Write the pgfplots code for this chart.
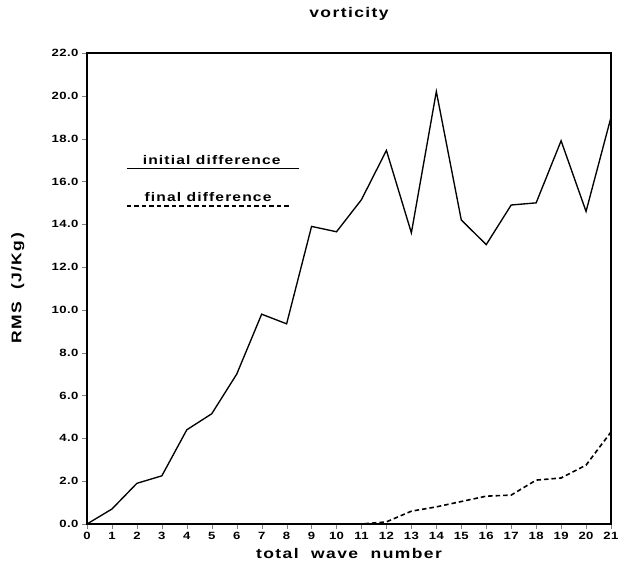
\documentclass[border=0pt]{standalone}
\usepackage{fontspec}
\setmainfont{Liberation Sans}
\newfontfamily\wf[FakeStretch=1.25]{Liberation Sans}
\usepackage{pgfplots}
\pgfplotsset{compat=1.18}
\begin{document}
\begin{tikzpicture}
\begin{axis}[
  scale only axis,
  width=524pt, height=471pt,
  xmin=0, xmax=21, ymin=0, ymax=22,
  xtick={0,...,21},
  ytick={0,2,...,22},
  yticklabel style={/pgf/number format/.cd,fixed,fixed zerofill,precision=1},
  /pgf/number format/assume math mode=true,
  tick label style={font=\wf\bfseries\fontsize{10.5}{12}\selectfont\addfontfeatures{LetterSpace=4}},
  tick align=outside,
  tick pos=left,
  major tick length=5pt,
  axis line style={line width=1.8pt},
  title={vorticity},
  title style={font=\wf\bfseries\fontsize{14}{16}\selectfont\addfontfeatures{LetterSpace=10}, at={(axis description cs:0.5,1.07)}, anchor=center},
  xlabel={total\ \ wave\ \ number},
  ylabel={RMS\ \ (J/Kg)},
  label style={font=\wf\bfseries\fontsize{14}{16}\selectfont\addfontfeatures{LetterSpace=10}},
  xlabel style={at={(axis description cs:0.5,-0.062)}, anchor=center},
  ylabel style={at={(axis description cs:-0.132,0.5)}, anchor=center},
  clip=false,
]
\addplot[black, line width=1.35pt] coordinates {
(0,0) (1,0.7) (2,1.9) (3,2.25) (4,4.4) (5,5.15) (6,7.0) (7,9.8) (8,9.35)
(9,13.9) (10,13.65) (11,15.15) (12,17.45) (13,13.6) (14,20.2) (15,14.2)
(16,13.05) (17,14.9) (18,15.0) (19,17.9) (20,14.6) (21,19.0)};
\addplot[black, line width=1.6pt, dash pattern=on 4.5pt off 3pt] coordinates {
(0,0) (1,0) (2,0) (3,0) (4,0) (5,0) (6,0) (7,0) (8,0) (9,0) (10,0) (11,0)
(12,0.1) (13,0.6) (14,0.8) (15,1.05) (16,1.3) (17,1.35) (18,2.05) (19,2.15)
(20,2.75) (21,4.3)};
% legend
\addplot[black, line width=1.5pt] coordinates {(1.6,16.6) (8.5,16.6)};
\addplot[black, line width=1.6pt, dash pattern=on 4.5pt off 3pt] coordinates {(1.6,14.85) (8.1,14.85)};
\node[anchor=base, font=\wf\bfseries\fontsize{12.5}{14}\selectfont\addfontfeatures{LetterSpace=9}] at (axis cs:5.0,16.8) {initial difference};
\node[anchor=base, font=\wf\bfseries\fontsize{12.5}{14}\selectfont\addfontfeatures{LetterSpace=9}] at (axis cs:4.85,15.05) {final difference};
\end{axis}
\pgfresetboundingbox
\path[use as bounding box] ([xshift=-87pt,yshift=-46pt]current axis.south west) rectangle ([xshift=21pt,yshift=53pt]current axis.north east);
\end{tikzpicture}
\end{document}
